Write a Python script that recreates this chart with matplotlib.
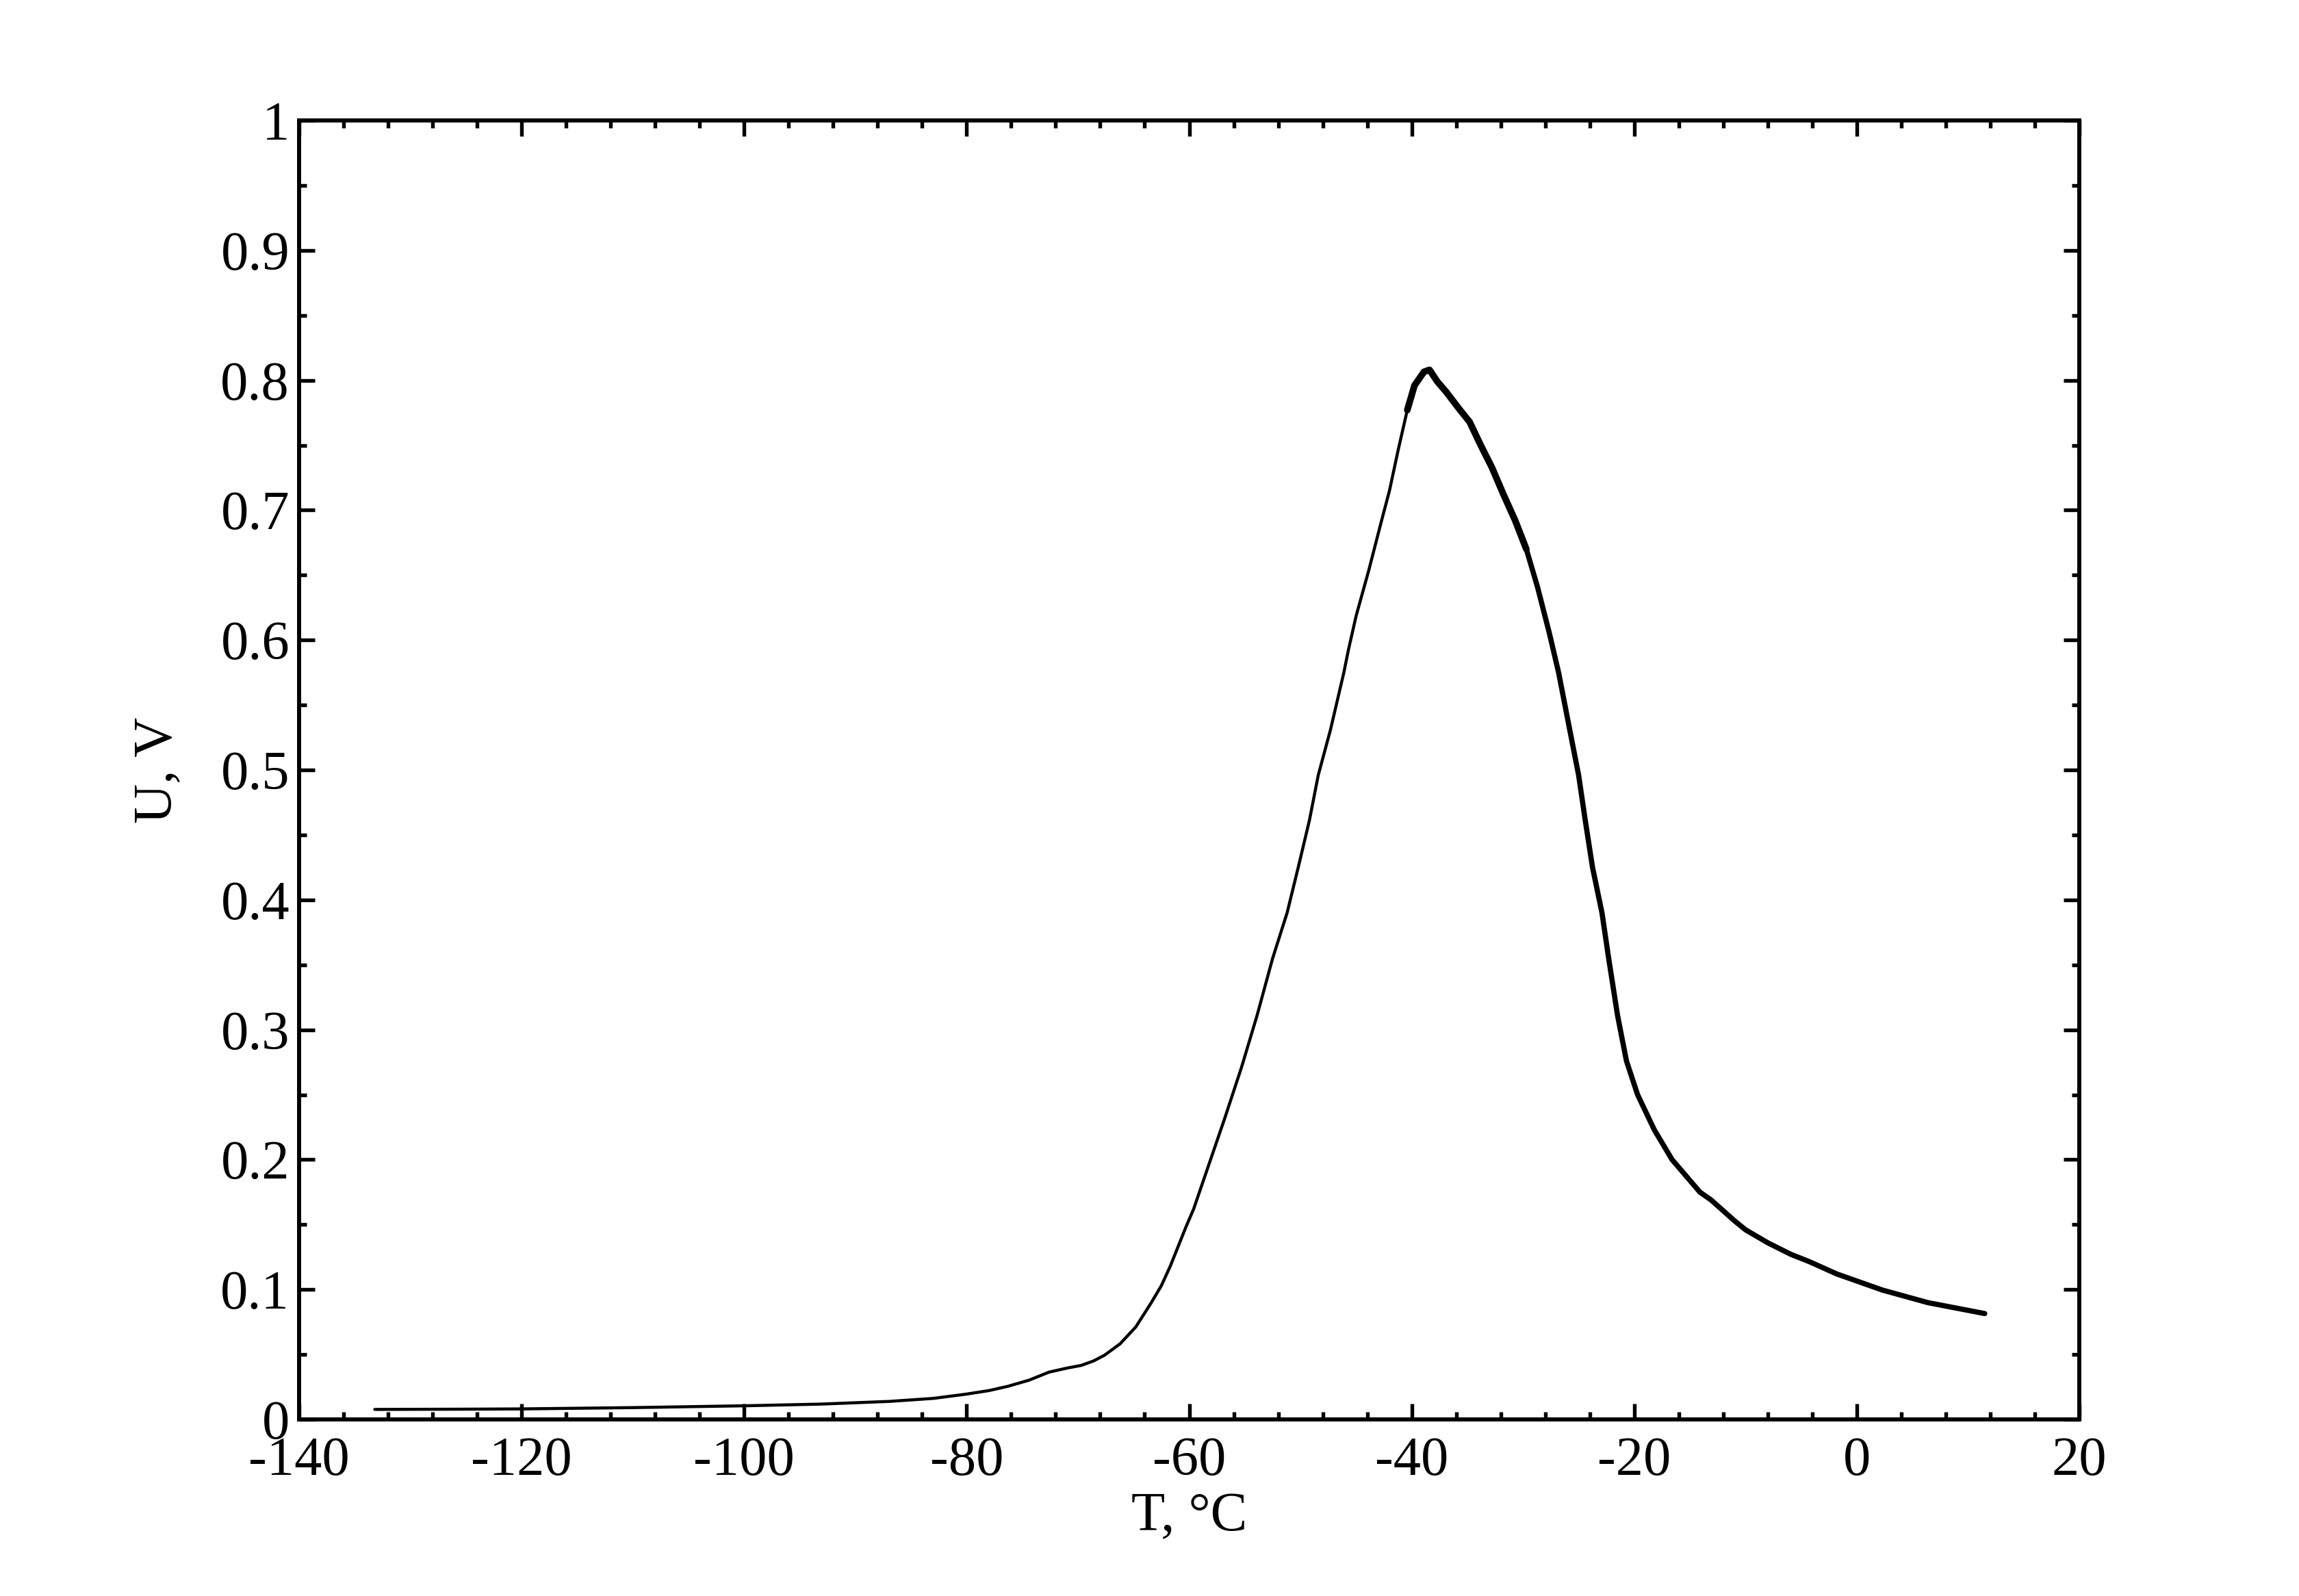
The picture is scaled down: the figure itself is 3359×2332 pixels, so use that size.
import matplotlib
matplotlib.use('Agg')
import matplotlib.pyplot as plt
from matplotlib.ticker import MultipleLocator, FixedLocator, FixedFormatter
import numpy as np

# --- Data (temperature in °C, signal in V) ---
temperature = [-133.2, -125.0, -120.0, -110.0, -100.0, -93.1, -86.9, -83.0, -80.1, -78.0,
               -76.3, -74.4, -72.6, -71.0, -69.7, -68.6, -67.6, -66.2, -64.8, -63.4,
               -62.5, -61.7, -60.3, -59.6, -58.2, -56.8, -55.3, -53.9, -52.5, -51.2,
               -50.2, -49.2, -48.4, -47.3, -46.1, -45.7, -45.0, -43.85, -42.8, -42.0,
               -41.2, -40.4, -39.75, -38.9, -38.4, -37.7, -36.9, -35.65, -34.8, -33.8,
               -32.8, -31.75, -30.7, -29.7, -28.7, -27.65, -26.8, -25.8, -25.0, -24.4,
               -23.75, -22.9, -22.3, -21.5, -20.7, -19.7, -18.2, -16.6, -14.1, -13.1,
               -11.0, -10.0, -8.0, -5.9, -4.3, -1.8, 2.3, 6.4, 11.5]
voltage = [0.0077, 0.0079, 0.0081, 0.0091, 0.0105, 0.0118, 0.0139, 0.0162, 0.0194, 0.0222,
           0.0255, 0.0302, 0.0364, 0.0395, 0.0416, 0.0450, 0.0495, 0.0583, 0.0712, 0.0900,
           0.1030, 0.1180, 0.1480, 0.1620, 0.1970, 0.2320, 0.2710, 0.3110, 0.3550, 0.3900,
           0.4250, 0.4610, 0.4960, 0.5310, 0.5750, 0.5920, 0.6185, 0.6540, 0.6890, 0.7150,
           0.7470, 0.7770, 0.7960, 0.8065, 0.8080, 0.7990, 0.7910, 0.7770, 0.7680, 0.7500,
           0.7330, 0.7120, 0.6920, 0.6700, 0.6410, 0.6060, 0.5750, 0.5310, 0.4960, 0.4610,
           0.4250, 0.3900, 0.3550, 0.3110, 0.2760, 0.2500, 0.2230, 0.2000, 0.1750, 0.1690,
           0.1530, 0.1460, 0.1360, 0.1270, 0.1216, 0.1120, 0.0996, 0.0899, 0.0815]

x_ticks = [-140, -120, -100, -80, -60, -40, -20, 0, 20]
x_tick_labels = ['-140', '-120', '-100', '-80', '-60', '-40', '-20', '0', '20']
y_ticks = [0, 0.1, 0.2, 0.3, 0.4, 0.5, 0.6, 0.7, 0.8, 0.9, 1.0]
y_tick_labels = ['0', '0.1', '0.2', '0.3', '0.4', '0.5', '0.6', '0.7', '0.8', '0.9', '1']

plt.rcParams['font.family'] = ['Liberation Serif', 'DejaVu Serif']
plt.rcParams['axes.unicode_minus'] = False

fig = plt.figure(figsize=(33.59, 23.32), dpi=100)
ax = fig.add_axes([437 / 3359, 1 - 2074 / 2332, (3038 - 437) / 3359, (2074 - 176) / 2332])

t = np.array(temperature)
u = np.array(voltage)

# the measured trace is noisier (looks thicker) past the peak
thin = t <= -40.4
noisy = (t >= -40.4) & (t <= -29.7)
tail = t >= -29.7
ax.plot(t[thin], u[thin], color='black', lw=3.2, solid_capstyle='round', solid_joinstyle='round')
ax.plot(t[noisy], u[noisy], color='black', lw=7.0, solid_capstyle='round', solid_joinstyle='round')
ax.plot(t[tail], u[tail], color='black', lw=5.5, solid_capstyle='round', solid_joinstyle='round')

ax.set_xlim(-140, 20)
ax.set_ylim(0, 1)

ax.xaxis.set_major_locator(FixedLocator(x_ticks))
ax.xaxis.set_major_formatter(FixedFormatter(x_tick_labels))
ax.xaxis.set_minor_locator(MultipleLocator(4))
ax.yaxis.set_major_locator(FixedLocator(y_ticks))
ax.yaxis.set_major_formatter(FixedFormatter(y_tick_labels))
ax.yaxis.set_minor_locator(MultipleLocator(0.05))

ax.tick_params(which='both', direction='in', top=True, right=True, width=3.9, colors='black')
ax.tick_params(which='major', length=16.5, labelsize=58)
ax.tick_params(which='minor', length=8)
ax.tick_params(axis='x', which='major', pad=18)
ax.tick_params(axis='y', which='major', pad=10)

for side in ax.spines.values():
    side.set_linewidth(4.3)

ax.set_xlabel('T, °C', fontsize=58, labelpad=6)
ax.set_ylabel('U, V', fontsize=58, labelpad=40)

plt.savefig('out.png', dpi=100)
